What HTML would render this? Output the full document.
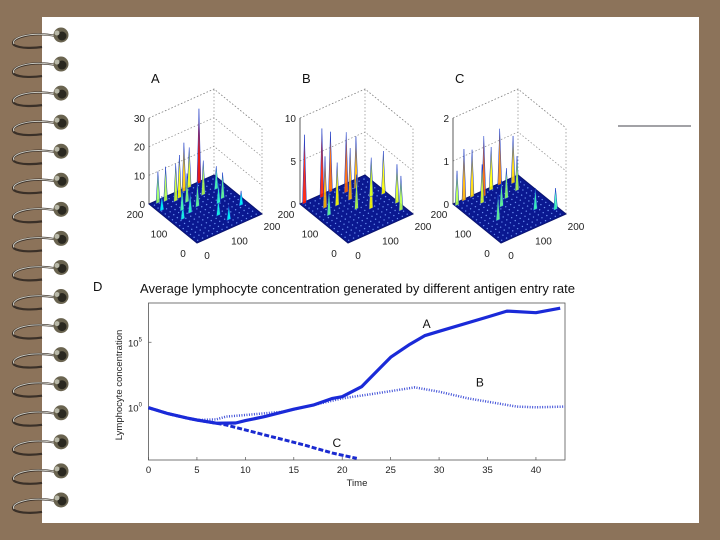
<!DOCTYPE html>
<html><head><meta charset="utf-8"><style>
body{margin:0;background:#8c735a;}
svg{display:block;font-family:"Liberation Sans",sans-serif;}
</style></head><body>
<svg id="s" width="720" height="540" viewBox="0 0 720 540">
<rect x="0" y="0" width="720" height="540" fill="#8c735a"/>
<rect x="42" y="17" width="657" height="506" fill="#fff"/>
<g id="rings"></g>
<line x1="618" y1="126" x2="691" y2="126" stroke="#6a6a70" stroke-width="1.2"/>
<g id="surf"></g>
<g id="chart"></g>
</svg>
<script>
const NS="http://www.w3.org/2000/svg";
function mk(tag,attrs,parent,txt){const e=document.createElementNS(NS,tag);for(const k in attrs)e.setAttribute(k,attrs[k]);if(txt!==undefined)e.textContent=txt;parent.appendChild(e);return e;}
// spiral rings
const rg=document.getElementById('rings');
for(let i=0;i<17;i++){const y=35+i*29.06;
 const g=mk('g',{},rg);
 
 
 mk('path',{d:`M56 ${y+1} C30 ${y-4} 8 ${y+4} 14 ${y+10} C20 ${y+14} 36 ${y+13} 42 ${y+12}`,fill:'none',stroke:'#3a3028','stroke-width':2.2},g);
 mk('path',{d:`M56 ${y+1} C30 ${y-4} 10 ${y+3} 14 ${y+9}`,fill:'none',stroke:'#c8c8c0','stroke-width':1},g);
 mk('circle',{cx:61,cy:y,r:7.5,fill:'#6a6450'},g);
 mk('circle',{cx:62,cy:y+1,r:4.5,fill:'#2a2820'},g);
 mk('circle',{cx:57,cy:y-2,r:2.5,fill:'#b8b8a8'},g);
}
// surface plots
const panels=["A","B","C"];
const zMax=[30,10,2];
const zTicks=[[0,10,20,30],[0,5,10],[0,1,2]];
const spikesA=[[150,195,26],[20,190,11],[40,185,12],[60,170,13],[80,150,10],[100,190,17],[120,195,14],[130,150,12],[170,150,8],[90,120,9],[60,110,7],[30,100,6],[110,60,6],[140,100,7],[180,60,5],[10,160,5],[75,175,15],[50,130,8],[120,30,5],[160,110,9]];
const spikesB=[[10,195,8],[60,190,8],[90,195,7],[120,170,7],[150,170,6],[190,110,5],[195,60,4.5],[40,150,6],[70,140,5],[100,100,4],[130,80,5],[160,120,4.5],[30,120,3],[185,30,4],[110,140,6]];
const spikesC=[[5,190,0.8],[30,195,1.2],[55,195,1.1],[80,180,1.4],[110,190,1.0],[140,195,1.3],[170,180,1.1],[120,140,0.7],[90,120,0.6],[50,80,0.6],[150,60,0.5],[190,30,0.5],[160,150,0.8],[60,160,0.9]];
const spikes=[spikesA,spikesB,spikesC];
const offs=[0,151,304];
function jet(t){const r=Math.max(0,Math.min(1,1.5-Math.abs(4*t-3))),g=Math.max(0,Math.min(1,1.5-Math.abs(4*t-2))),b=Math.max(0,Math.min(1,1.5-Math.abs(4*t-1)));return `rgb(${r*255|0},${g*255|0},${b*255|0})`;}
const sf=document.getElementById('surf');
panels.forEach((p,i)=>{
 const o=offs[i];
 const L=[149+o,204],B=[197+o,243],R=[262+o,214],K=[214+o,175];
 const H=86;
 const pt=(u,v,z)=>[B[0]+u*(R[0]-B[0])/200+v*(L[0]-B[0])/200, B[1]+u*(R[1]-B[1])/200+v*(L[1]-B[1])/200 - z/zMax[i]*H];
 const g=mk('g',{},sf);
 
 
 const dot={stroke:'#888','stroke-width':0.7,'stroke-dasharray':'1.5,2',fill:'none'};
 mk('polyline',Object.assign({points:`${L[0]},${L[1]-H} ${K[0]},${K[1]-H} ${R[0]},${R[1]-H}`},dot),g);
 mk('line',Object.assign({x1:K[0],y1:K[1],x2:K[0],y2:K[1]-H},dot),g);
 mk('line',Object.assign({x1:R[0],y1:R[1],x2:R[0],y2:R[1]-H},dot),g);
 zTicks[i].forEach(t=>{if(t===0)return;const y=L[1]-t/zMax[i]*H;const yk=K[1]-t/zMax[i]*H,yr=R[1]-t/zMax[i]*H;
  mk('polyline',Object.assign({points:`${L[0]},${y} ${K[0]},${yk} ${R[0]},${yr}`},dot),g);});
 mk('line',{x1:L[0],y1:L[1],x2:L[0],y2:L[1]-H,stroke:'#333','stroke-width':0.8},g);
 mk('polygon',{points:`${L} ${B} ${R} ${K}`,fill:'#0a1890',stroke:'#0a1470','stroke-width':1},g);
 for(let a=8;a<200;a+=15)for(let b=8;b<200;b+=15){const q=pt(a,b,0);mk('circle',{cx:q[0],cy:q[1],r:0.7,fill:'#6a90f0'},g);}
 spikes[i].forEach(s=>{const b0=pt(s[0]-6,s[1],0),b1=pt(s[0]+6,s[1],0),tp=pt(s[0],s[1],s[2]);
  const sp=mk('polygon',{points:`${b0} ${tp} ${b1}`,fill:jet(0.25+0.75*s[2]/zMax[i]),stroke:'#1838c8','stroke-width':0.5,'fill-opacity':0.9},g);
  
  });
 zTicks[i].forEach(t=>{const y=L[1]-t/zMax[i]*H;mk('text',{x:L[0]-4,y:y+4,'font-size':10,'text-anchor':'end',fill:'#222'},g,t);});
 [200,100,0].forEach(v=>{const q=pt(0,v,0);mk('text',{x:q[0]-14,y:q[1]+14,'font-size':10,'text-anchor':'middle',fill:'#222'},g,v);});
 [0,100,200].forEach(u=>{const q=pt(u,0,0);mk('text',{x:q[0]+10,y:q[1]+16,'font-size':10,'text-anchor':'middle',fill:'#222'},g,u);});
 mk('text',{x:151+o,y:83,'font-size':13,fill:'#111'},g,p);
});
// line chart data
const times=[0,2,4,5,7,9,10,12,15,17,19,20,22,25,27,28.5,30,35,37,40,42.5];
const seriesA=[0,-0.45,-0.8,-0.94,-1.19,-1.17,-0.99,-0.68,-0.12,0.2,0.71,0.84,1.6,3.86,4.85,5.5,5.84,6.93,7.38,7.26,7.6];
const timesB=[0,2,4,5,7,8,10,14,17,20,23,27.5,30,33,36,38,40,43];
const seriesB=[0,-0.45,-0.8,-0.94,-0.9,-0.68,-0.56,-0.3,0.2,0.71,1.04,1.55,1.22,0.71,0.33,0.08,0.03,0.08];
const timesC=[0,2,4,5,8,12,16,19,21.5];
const seriesC=[0,-0.45,-0.8,-0.94,-1.32,-2.08,-2.84,-3.47,-3.88];
const xTicks=[0,5,10,15,20,25,30,35,40];
const yTicks=[0,5];
const x0=148.5,x1=565,y0=303,y1=460,xMax=43,yMin=-4,yMax=8;
const X=t=>x0+t/xMax*(x1-x0), Y=v=>y1-(v-yMin)/(yMax-yMin)*(y1-y0);
const ch=document.getElementById('chart');
const t1=mk('text',{x:93,y:291,'font-size':13,fill:'#111'},ch,'D');

const tt=mk('text',{x:140,y:293,'font-size':13,fill:'#111',textLength:435,lengthAdjust:'spacingAndGlyphs'},ch,'Average lymphocyte concentration generated by different antigen entry rate');

const fr=mk('rect',{x:x0,y:y0,width:x1-x0,height:y1-y0,fill:'none',stroke:'#555','stroke-width':0.8},ch);

xTicks.forEach(t=>{mk('line',{x1:X(t),y1:y1,x2:X(t),y2:y1-3,stroke:'#555','stroke-width':0.7},ch);
 const l=mk('text',{x:X(t),y:y1+13,'font-size':9.5,'text-anchor':'middle',fill:'#222'},ch,t);
 });
yTicks.forEach(d=>{const l=mk('text',{x:128,y:Y(d)+4,'font-size':9.5,fill:'#222'},ch,'10');
 mk('tspan',{'font-size':6,dy:-5},l,d);
 
 mk('line',{x1:x0,y1:Y(d),x2:x0+3,y2:Y(d),stroke:'#555','stroke-width':0.7},ch);});
const xl=mk('text',{x:357,y:486,'font-size':9.5,'text-anchor':'middle',fill:'#222'},ch,'Time');

const yl=mk('text',{x:0,y:0,'font-size':9.5,'text-anchor':'middle',fill:'#222',transform:`translate(122,385) rotate(-90)`},ch,'Lymphocyte concentration');

function pts(ts,vs){return ts.map((t,i)=>`${X(t).toFixed(1)},${Y(vs[i]).toFixed(1)}`).join(' ');}
const lb=mk('polyline',{points:pts(timesB,seriesB),fill:'none',stroke:'#4050d8','stroke-width':2.5,'stroke-dasharray':'1,1.5'},ch);

const lc=mk('polyline',{points:pts(timesC,seriesC),fill:'none',stroke:'#1a2ad0','stroke-width':3,'stroke-dasharray':'5,2'},ch);

const la=mk('polyline',{points:pts(times,seriesA),fill:'none',stroke:'#1a2ad8','stroke-width':3.2,'stroke-linejoin':'round'},ch);

[['A',28.3,6.1],['B',33.8,1.6],['C',19,-3]].forEach(([s,t,v])=>{const l=mk('text',{x:X(t),y:Y(v),'font-size':12,fill:'#111'},ch,s);
 });
</script>
</body></html>
